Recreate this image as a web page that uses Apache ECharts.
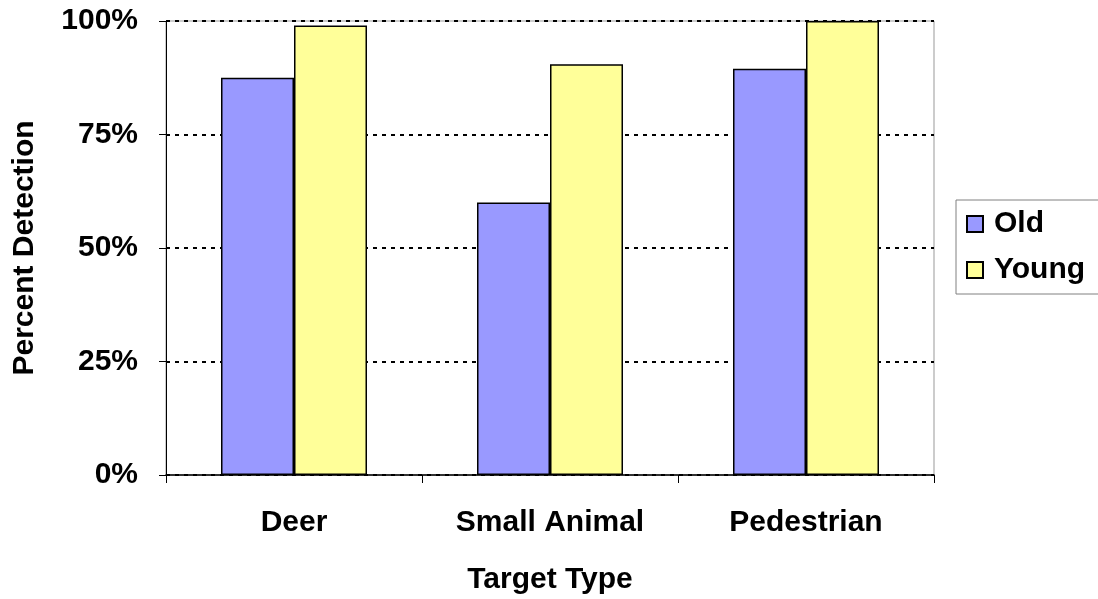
<!DOCTYPE html>
<html>
<head>
<meta charset="utf-8">
<script src="https://cdn.jsdelivr.net/npm/echarts@6/dist/echarts.min.js"></script>
<style>
  html, body { margin: 0; padding: 0; background: #fff; }
  #chart { width: 1098px; height: 599px; }
</style>
</head>
<body>
<div id="chart"></div>
<script>
var categories = ["Deer", "Small Animal", "Pedestrian"];
var oldValues = [0.875, 0.60, 0.895];
var youngValues = [0.99, 0.905, 1.00];
var yTicks = [0, 0.25, 0.5, 0.75, 1];

var font = "'Liberation Sans', Arial, sans-serif";
var textStyle = { fontFamily: font, fontWeight: "bold", fontSize: 30, color: "#000" };

var chart = echarts.init(document.getElementById("chart"));
var option = {
    animation: false,
    grid: {
        left: 166, top: 21, width: 768, height: 454,
        outerBoundsMode: "none",
        containLabel: false,
        show: true, borderColor: "#999", borderWidth: 1, backgroundColor: "transparent"
    },
    legend: {
        orient: "vertical",
        left: 956, top: 200,
        padding: [9, 40, 9, 10],
        itemGap: 16,
        itemWidth: 16, itemHeight: 16,
        backgroundColor: "#fff",
        borderColor: "#808080", borderWidth: 1,
        borderRadius: 0,
        textStyle: Object.assign({ padding: [0, 0, 0, 6] }, textStyle),
        data: [
            { name: "Old", icon: "rect" },
            { name: "Young", icon: "rect" }
        ]
    },
    xAxis: {
        type: "category",
        data: categories,
        z: 5,
        name: "Target Type",
        nameLocation: "middle",
        nameGap: 90,
        nameTextStyle: textStyle,
        axisLine: { lineStyle: { color: "#000", width: 1.5 } },
        axisTick: { show: true, length: 8, lineStyle: { color: "#000" } },
        axisLabel: Object.assign({ margin: 33 }, textStyle)
    },
    yAxis: {
        type: "value",
        min: 0, max: 1, interval: 0.25,
        name: "Percent Detection",
        nameLocation: "middle",
        nameGap: 126,
        nameTextStyle: textStyle,
        axisLine: { show: true, lineStyle: { color: "#000", width: 1 } },
        axisTick: { show: true, length: 7, lineStyle: { color: "#000" } },
        axisLabel: Object.assign({
            margin: 28,
            formatter: function (v) { return Math.round(v * 100) + "%"; }
        }, textStyle),
        splitLine: { show: true, lineStyle: { color: "#000", width: 2, type: [4, 5] } }
    },
    series: [
        {
            name: "Old", type: "bar", data: oldValues,
            barWidth: 73, barGap: "0%",
            itemStyle: { color: "#9999ff", borderColor: "#000", borderWidth: 1.5 }
        },
        {
            name: "Young", type: "bar", data: youngValues,
            barWidth: 73, barGap: "0%",
            itemStyle: { color: "#ffff99", borderColor: "#000", borderWidth: 1.5 }
        }
    ]
};
chart.setOption(option);
</script>
</body>
</html>
